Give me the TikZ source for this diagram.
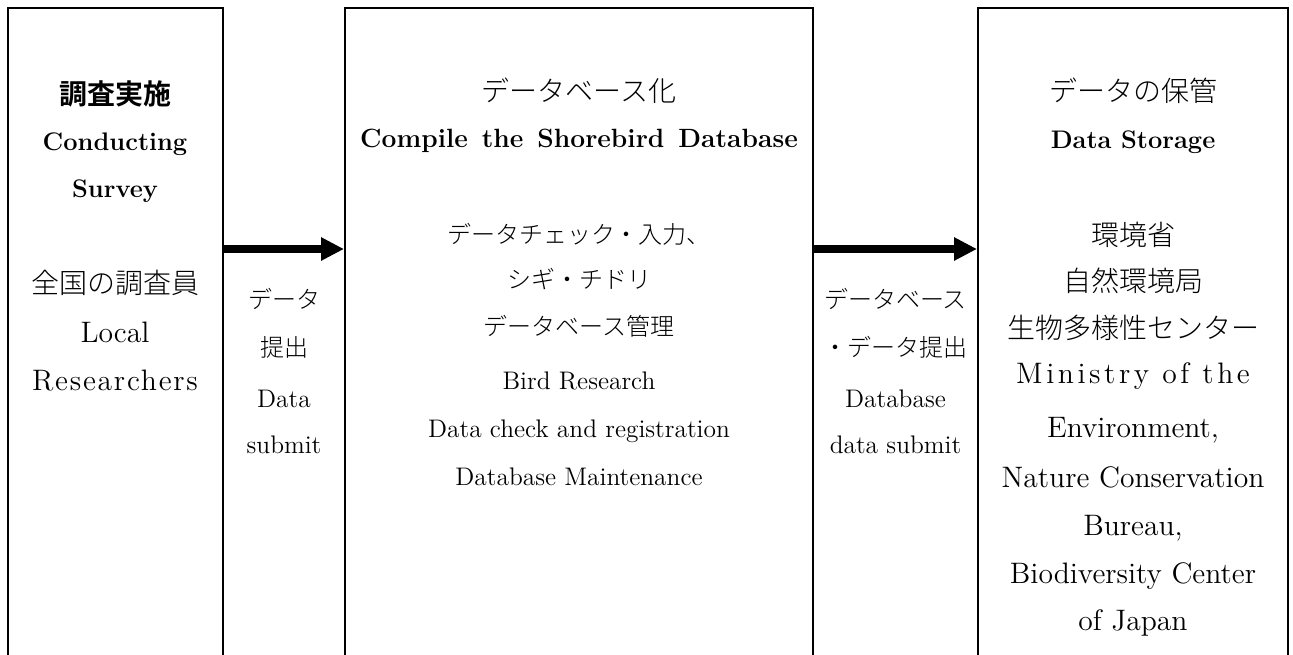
\documentclass[tikz,border=0pt]{standalone}
\usepackage{fontspec}
\newfontfamily\jpfont{Noto Sans CJK JP}[UprightFont={* Light},BoldFont={* Bold}]
\newfontfamily\lmwideA{lmroman12-regular.otf}[LetterSpace=12]
\newfontfamily\lmwideB{lmroman12-regular.otf}[LetterSpace=6]
\usetikzlibrary{arrows.meta,fit}
\newcommand\fJTB{\jpfont\bfseries\fontsize{14pt}{16pt}\selectfont}
\newcommand\fJT{\jpfont\fontsize{14pt}{16pt}\selectfont}
\newcommand\fJS{\jpfont\fontsize{12pt}{14pt}\selectfont}
\newcommand\fET{\rmfamily\bfseries\fontsize{12.7pt}{15pt}\selectfont}
\newcommand\fEB{\rmfamily\fontsize{14.8pt}{17pt}\selectfont}
\newcommand\fES{\rmfamily\fontsize{12.7pt}{15pt}\selectfont}
\begin{document}
\begin{tikzpicture}[x=0.5pt,y=-0.5pt,
  box/.style={draw, line width=1pt, inner sep=0pt},
  flow/.style={line width=4pt, -{Triangle[length=11.5pt,width=11pt]}},
  tl/.style={anchor=base, inner sep=0pt, outer sep=0pt}]
\useasboundingbox (0,0) rectangle (1293,654);
\clip (0,0) rectangle (1293,654);
% boxes (open at the bottom: extend past the page)
\node[box, fit={(7.5,7.5) (222.5,720)}] (L) {};
\node[box, fit={(345,7.5) (812.5,720)}] (M) {};
\node[box, fit={(978,7.5) (1287.5,720)}] (R) {};
% arrows
\coordinate (ay) at (0,249);
\draw[flow] (L.east |- ay) -- (M.west |- ay);
\draw[flow] (M.east |- ay) -- (R.west |- ay);
% left box
\node[tl] (l1) at (115,104) {\fJTB 調査実施};
\node[tl] (l2) at (115,150) {\fET Conducting};
\node[tl] (l3) at (115,197) {\fET Survey};
\node[tl] (l4) at (115,293) {\fJT 全国の調査員};
\node[tl] (l5) at (115,342) {\fEB Local};
\node[tl] (l6) at (115,390) {\lmwideB\fontsize{14.8pt}{17pt}\selectfont Researchers};
% left arrow labels
\node[tl] (a1) at (284,308) {\fJS データ};
\node[tl] (a2) at (284,356) {\fJS 提出};
\node[tl] (a3) at (284,407) {\fES Data};
\node[tl] (a4) at (284,453) {\fES submit};
% middle box
\node[tl] (m1) at (579,101) {\fJT データベース化};
\node[tl] (m2) at (579,147) {\rmfamily\bfseries\fontsize{13.2pt}{15pt}\selectfont\spaceskip=7pt plus 1pt Compile the Shorebird Database};
\node[tl] (m3) at (579,243) {\fJS データチェック・入力、};
\node[tl] (m4) at (579,288) {\fJS シギ・チドリ};
\node[tl] (m5) at (579,335) {\fJS データベース管理};
\node[tl] (m6) at (579,389) {\fES Bird Research};
\node[tl] (m7) at (579,437) {\fES Data check and registration};
\node[tl] (m8) at (579,485) {\fES Database Maintenance};
% right arrow labels
\node[tl] (b1) at (895.5,308) {\fJS データベース};
\node[tl] (b2) at (895.5,356) {\fJS ・データ提出};
\node[tl] (b3) at (895.5,407) {\fES Database};
\node[tl] (b4) at (895.5,453) {\fES data submit};
% right box
\node[tl] (r1) at (1133,101) {\fJT データの保管};
\node[tl] (r2) at (1133,148) {\fET Data Storage};
\node[tl] (r3) at (1133,245) {\fJT 環境省};
\node[tl] (r4) at (1133,291) {\fJT 自然環境局};
\node[tl] (r5) at (1133,338) {\fJT 生物多様性センター};
\node[tl] (r6) at (1133,383) {\lmwideA\fontsize{14.8pt}{17pt}\selectfont Ministry of the};
\node[tl] (r7) at (1133,437) {\fEB Environment,};
\node[tl] (r8) at (1133,487) {\fEB Nature Conservation};
\node[tl] (r9) at (1133,535) {\fEB Bureau,};
\node[tl] (r10) at (1133,583) {\fEB Biodiversity Center};
\node[tl] (r11) at (1133,630) {\fEB of Japan};
\end{tikzpicture}
\end{document}
